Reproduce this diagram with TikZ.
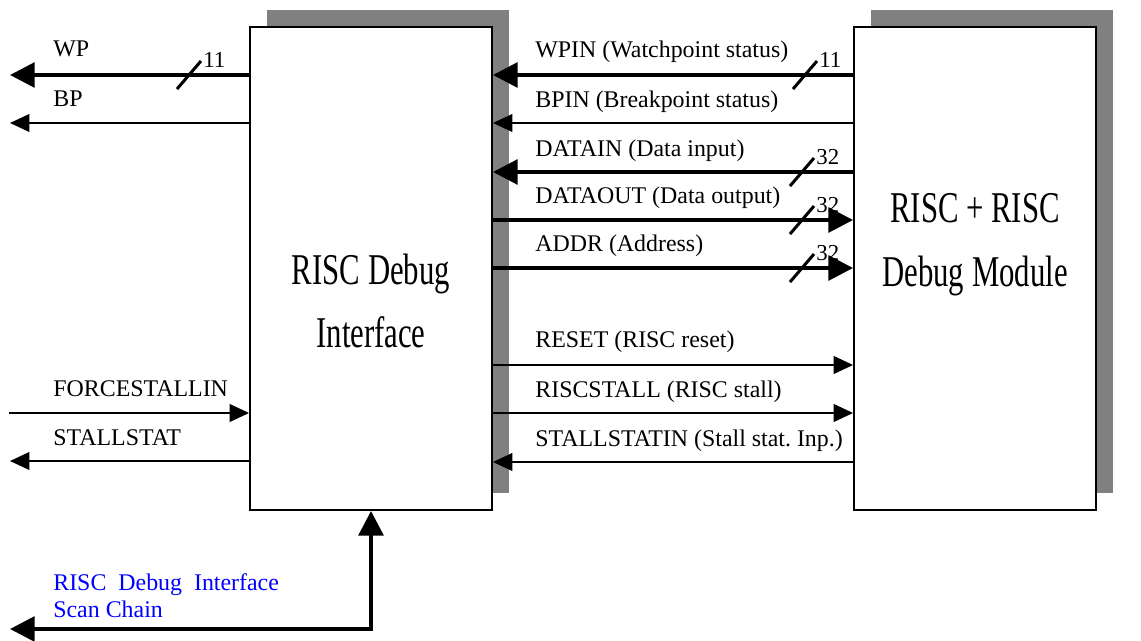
\documentclass[tikz,border=0pt]{standalone}
\usepackage{fontspec}
\setmainfont{Liberation Serif}
\usepackage{graphicx}
\usetikzlibrary{arrows.meta,positioning,shadows}

\tikzset{
  bigtip/.tip={Triangle[length=14pt,width=14pt]},
  smalltip/.tip={Triangle[length=11pt,width=10pt]},
  block/.style={draw, line width=1.1pt, fill=white, inner sep=0pt,
    minimum width=4.84cm, minimum height=9.66cm,
    general shadow={fill=black!50, shadow xshift=0.34cm, shadow yshift=0.34cm}},
  blocktext/.style={anchor=base, inner sep=0pt, font=\fontsize{25}{30}\selectfont},
  sig/.style={anchor=base west, inner sep=0pt, font=\fontsize{13.6}{16}\selectfont},
  buswidth/.style={anchor=base west, inner sep=0pt, font=\fontsize{13}{15}\selectfont},
  wire/.style={line width=1.1pt, -smalltip},
  bus/.style={line width=2.2pt, -bigtip},
  slash/.style={line width=1.7pt},
}

\begin{document}
\begin{tikzpicture}[x=0.02cm, y=-0.02cm]
\useasboundingbox (0,0) rectangle (1141,641);

% the two blocks
\node[block] (dbg) at (371,268.5) {};
\node[block] (risc) at (975,268.5) {};
\node[blocktext] (dbgname) at (371,285) {\scalebox{0.7}[1]{RISC Debug}};
\node[blocktext] (dbgname2) at (371,348) {\scalebox{0.7}[1]{Interface}};
\node[blocktext] (riscname) at (975,223) {\scalebox{0.7}[1]{RISC + RISC}};
\node[blocktext] (riscname2) at (975,287) {\scalebox{0.7}[1]{Debug Module}};

% free ends on the left
\coordinate (wp) at (10,75);
\coordinate (bp) at (10,123);
\coordinate (fsin) at (9,413);
\coordinate (sstat) at (10,461);
\coordinate (scan) at (10,629);

% left side signals
\draw[bus] (dbg.west |- wp) -- (wp);
\draw[wire] (dbg.west |- bp) -- (bp);
\draw[wire] (fsin) -- (dbg.west |- fsin);
\draw[wire] (dbg.west |- sstat) -- (sstat);
\draw[line width=2.2pt, bigtip-bigtip] (dbg.south) |- (scan);

\node[sig] at (53,57) {WP};
\node[sig] at (53,107) {BP};
\node[sig] at (53,396) {FORCESTALLIN};
\node[sig] at (53,445) {STALLSTAT};
\node[sig, text=blue] at (53,590) {RISC~~Debug~~Interface};
\node[sig, text=blue] at (53,617) {Scan Chain};

% signals between the blocks
\draw[bus] (risc.west |- 0,75) -- (dbg.east |- 0,75);
\draw[wire] (risc.west |- 0,123) -- (dbg.east |- 0,123);
\draw[bus] (risc.west |- 0,172) -- (dbg.east |- 0,172);
\draw[bus] (dbg.east |- 0,220) -- (risc.west |- 0,220);
\draw[bus] (dbg.east |- 0,268) -- (risc.west |- 0,268);
\draw[wire] (dbg.east |- 0,365) -- (risc.west |- 0,365);
\draw[wire] (dbg.east |- 0,413) -- (risc.west |- 0,413);
\draw[wire] (risc.west |- 0,462) -- (dbg.east |- 0,462);

\node[sig] at (535,58) {WPIN (Watchpoint status)};
\node[sig] at (535,108) {BPIN (Breakpoint status)};
\node[sig] at (535,157) {DATAIN (Data input)};
\node[sig] at (535,204) {DATAOUT (Data output)};
\node[sig] at (535,252) {ADDR (Address)};
\node[sig] at (535,348) {RESET (RISC reset)};
\node[sig] at (535,397) {RISCSTALL (RISC stall)};
\node[sig] at (535,446) {STALLSTATIN (Stall stat.\ Inp.)};

% bus width marks
\foreach \x/\y/\n in {189/75/11, 805/75/11, 802/172/32, 802/220/32, 802/268/32} {
  \draw[slash] (\x-12,\y+14) -- (\x+12,\y-14);
  \node[buswidth] at (\x+14,\y-7) {\n};
}
\end{tikzpicture}
\end{document}
